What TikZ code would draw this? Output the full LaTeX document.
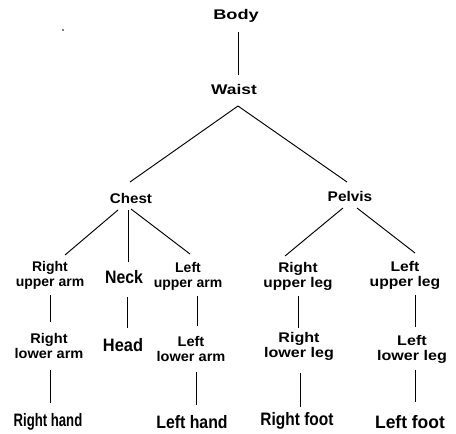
\documentclass[tikz,border=0pt]{standalone}
\usepackage{fontspec}
\setmainfont{Liberation Sans}
\usepackage{graphicx}
\newcommand\sx[2]{\scalebox{#1}[1]{#2}}
\newcommand\two[3]{\scalebox{#1}[1]{\begin{tabular}{@{}c@{}}#2\\#3\end{tabular}}}
\begin{document}
\begin{tikzpicture}[x=1pt,y=-1pt,
  lbl/.style={inner sep=0pt, font=\bfseries\fontsize{14}{15.5}\selectfont},
  big/.style={inner sep=0pt, font=\bfseries\fontsize{18}{19}\selectfont},
  conn/.style={line width=0.95pt}]
\useasboundingbox (0,0) rectangle (456,434);
\fill (63,30) circle (0.8);
% nodes
\node[lbl] (body) at (236,16) {\sx{1.3}{Body}};
\node[lbl] (waist) at (234,89) {\sx{1.24}{Waist}};
\node[lbl] (chest) at (131,198) {\sx{1.08}{Chest}};
\node[lbl] (pelvis) at (350,196) {\sx{1.1}{Pelvis}};
\node[lbl] (rua) at (50,276) {\two{1.0}{Right}{upper arm}};
\node[big] (neck) at (124,277) {\sx{0.88}{Neck}};
\node[lbl] (lua) at (188,277) {\two{1.0}{Left}{upper arm}};
\node[lbl] (rul) at (298,277) {\two{1.1}{Right}{upper leg}};
\node[lbl] (lul) at (405,276) {\two{1.12}{Left}{upper leg}};
\node[lbl] (rla) at (49,348) {\two{1.04}{Right}{lower arm}};
\node[big] (head) at (123,345) {\sx{0.91}{Head}};
\node[lbl] (lla) at (191,351) {\two{1.04}{Left}{lower arm}};
\node[lbl] (rll) at (299,347) {\two{1.15}{Right}{lower leg}};
\node[lbl] (lll) at (412,350) {\two{1.15}{Left}{lower leg}};
\node[big] (rh) at (48,422) {\sx{0.73}{Right hand}};
\node[big] (lh) at (192,422) {\sx{0.88}{Left hand}};
\node[big] (rf) at (297,421) {\sx{0.86}{Right foot}};
\node[big] (lf) at (410,422) {\sx{0.97}{Left foot}};
% connectors
\draw[conn] ([shift={(2,16)}]body.center) -- ([shift={(4,-14)}]waist.center);
\draw[conn] ([shift={(4,17)}]waist.center) -- ([shift={(-1,-16)}]chest.center);
\draw[conn] ([shift={(4,17)}]waist.center) -- ([shift={(-3,-14)}]pelvis.center);
\draw[conn] ([shift={(-13,12)}]chest.center) -- ([shift={(15,-21)}]rua.center);
\draw[conn] ([shift={(-3,12)}]chest.center) -- ([shift={(4,-15)}]neck.center);
\draw[conn] ([shift={(0,11)}]chest.center) -- ([shift={(2,-23)}]lua.center);
\draw[conn] ([shift={(-7,12)}]pelvis.center) -- ([shift={(-13,-21)}]rul.center);
\draw[conn] ([shift={(7,12)}]pelvis.center) -- ([shift={(10,-23)}]lul.center);
\draw[conn] ([shift={(0,19)}]rua.center) -- ([shift={(1,-26)}]rla.center);
\draw[conn] ([shift={(3,20)}]neck.center) -- ([shift={(4,-17)}]head.center);
\draw[conn] ([shift={(9,19)}]lua.center) -- ([shift={(6,-25)}]lla.center);
\draw[conn] ([shift={(0,19)}]rul.center) -- ([shift={(-1,-19)}]rll.center);
\draw[conn] ([shift={(10,19)}]lul.center) -- ([shift={(3,-23)}]lll.center);
\draw[conn] ([shift={(1,22)}]rla.center) -- ([shift={(2,-19)}]rh.center);
\draw[conn] ([shift={(5,21)}]lla.center) -- ([shift={(4,-17)}]lh.center);
\draw[conn] ([shift={(1,26)}]rll.center) -- ([shift={(3,-14)}]rf.center);
\draw[conn] ([shift={(3,20)}]lll.center) -- ([shift={(5,-20)}]lf.center);
\end{tikzpicture}
\end{document}
